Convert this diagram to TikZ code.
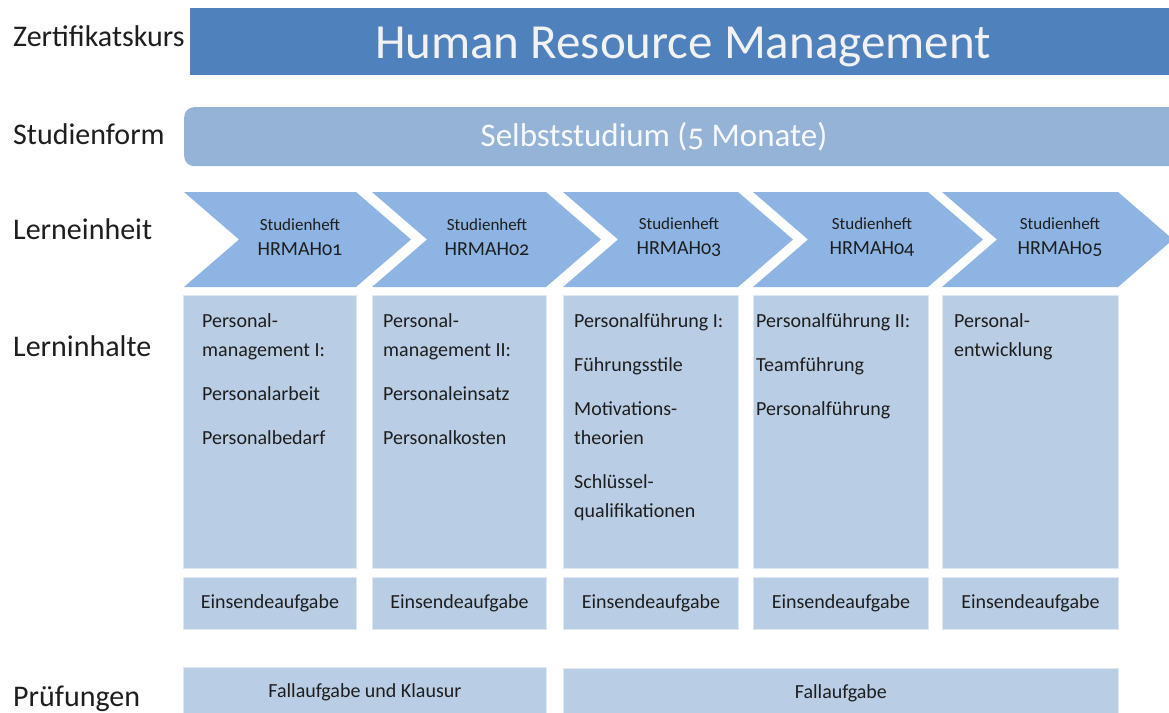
\documentclass[tikz,border=0pt]{standalone}
\usepackage{fontspec}
\setmainfont{Carlito}[Numbers=OldStyle]
\usetikzlibrary{positioning}
\definecolor{hrmdark}{HTML}{4F81BD}
\definecolor{hrmmid}{HTML}{95B3D7}
\definecolor{hrmchev}{HTML}{8DB4E2}
\definecolor{hrmlight}{HTML}{B9CDE5}
\definecolor{hrmtext}{HTML}{1E1E1E}

\begin{document}
\begin{tikzpicture}[x=1pt,y=-1pt,
    rowlabel/.style={anchor=base west, inner sep=0pt, text=hrmtext, font=\fontsize{30}{32}\selectfont},
    box/.style={anchor=north west, fill=hrmlight, draw=white!55!hrmlight, line width=0.8pt, inner sep=0pt, text=hrmtext, font=\fontsize{20}{24}\selectfont},
    boxtext/.style={anchor=north west, inner sep=0pt, align=left, text=hrmtext, font=\fontsize{20}{29}\selectfont},
    chev/.style={fill=hrmchev},
    heft/.style={align=center, inner sep=0pt, text=hrmtext, font=\fontsize{17}{25}\selectfont}]
    \useasboundingbox (0,0) rectangle (1169,712);
    \fill[white] (0,0) rectangle (1169,712);

    % row labels
    \node [rowlabel] (zert)   at (13,46)  {Zertifikatskurs};
    \node [rowlabel] (form)   at (13,144) {Studienform};
    \node [rowlabel] (einheit) at (13,239) {Lerneinheit};
    \node [rowlabel] (inhalt) at (13,356) {Lerninhalte};
    \node [rowlabel] (pruef)  at (13,706) {Prüfungen};

    % title and study form
    \node [anchor=north west, fill=hrmdark, minimum width=979pt, minimum height=67pt, inner sep=0pt] (titel) at (190,8) {};
    \node [anchor=base, text=white!95!black, font=\fontsize{49}{52}\selectfont, inner sep=0pt] (titeltext) at (683,58) {Human Resource Management};
    \node [anchor=north west, fill=hrmmid, rounded corners=10pt, minimum width=1000pt, minimum height=59pt, inner sep=0pt] (selbst) at (184,107) {};
    \node [anchor=base, text=white!92!hrmmid, font=\fontsize{33}{36}\selectfont, inner sep=0pt] (selbsttext) at (654,146) {Selbststudium (5 Monate)};

    % chevrons
    \fill [chev] (184,192) -- (356,192) -- (411,239.5) -- (356,287) -- (184,287) -- (239,239.5) -- cycle;
    \fill [chev] (372,192) -- (546,192) -- (601,239.5) -- (546,287) -- (372,287) -- (427,239.5) -- cycle;
    \fill [chev] (563,192) -- (738,192) -- (793,239.5) -- (738,287) -- (563,287) -- (618,239.5) -- cycle;
    \fill [chev] (753,192) -- (928,192) -- (983,239.5) -- (928,287) -- (753,287) -- (808,239.5) -- cycle;
    \fill [chev] (942,192) -- (1118,192) -- (1173,239.5) -- (1118,287) -- (942,287) -- (997,239.5) -- cycle;

    \node [heft] (heft1) at (300,237) {Studienheft\\{\fontsize{20}{20}\selectfont HRMAH01}};
    \node [heft] (heft2) at (487,237) {Studienheft\\{\fontsize{20}{20}\selectfont HRMAH02}};
    \node [heft] (heft3) at (679,237) {Studienheft\\{\fontsize{20}{20}\selectfont HRMAH03}};
    \node [heft] (heft4) at (872,237) {Studienheft\\{\fontsize{20}{20}\selectfont HRMAH04}};
    \node [heft] (heft5) at (1060,237) {Studienheft\\{\fontsize{20}{20}\selectfont HRMAH05}};

    % contents
    \node [box, minimum width=173pt, minimum height=273pt] (inh1) at (183,295) {};
    \node [box, minimum width=174pt, minimum height=273pt] (inh2) at (372,295) {};
    \node [box, minimum width=175pt, minimum height=273pt] (inh3) at (563,295) {};
    \node [box, minimum width=175pt, minimum height=273pt] (inh4) at (753,295) {};
    \node [box, minimum width=176pt, minimum height=273pt] (inh5) at (942,295) {};

    \node [boxtext] (txt1) at (202,313) {Personal-\\management I:\\[15pt]Personalarbeit\\[15pt]Personalbedarf};
    \node [boxtext] (txt2) at (383,313) {Personal-\\management II:\\[15pt]Personaleinsatz\\[15pt]Personalkosten};
    \node [boxtext] (txt3) at (574,313) {Personalführung I:\\[15pt]Führungsstile\\[15pt]Motivations-\\theorien\\[15pt]Schlüssel-\\qualifikationen};
    \node [boxtext] (txt4) at (756,313) {Personalführung II:\\[15pt]Teamführung\\[15pt]Personalführung};
    \node [boxtext] (txt5) at (954,313) {Personal-\\entwicklung};

    % assignments
    \node [box, minimum width=173pt, minimum height=52pt] (ein1) at (183,577) {Einsendeaufgabe};
    \node [box, minimum width=174pt, minimum height=52pt] (ein2) at (372,577) {Einsendeaufgabe};
    \node [box, minimum width=175pt, minimum height=52pt] (ein3) at (563,577) {Einsendeaufgabe};
    \node [box, minimum width=175pt, minimum height=52pt] (ein4) at (753,577) {Einsendeaufgabe};
    \node [box, minimum width=176pt, minimum height=52pt] (ein5) at (942,577) {Einsendeaufgabe};

    % exams
    \node [box, minimum width=363pt, minimum height=50pt] (klausur) at (183,667) {Fallaufgabe und Klausur};
    \node [box, minimum width=555pt, minimum height=50pt] (fall)    at (563,668) {Fallaufgabe};
\end{tikzpicture}
\end{document}
